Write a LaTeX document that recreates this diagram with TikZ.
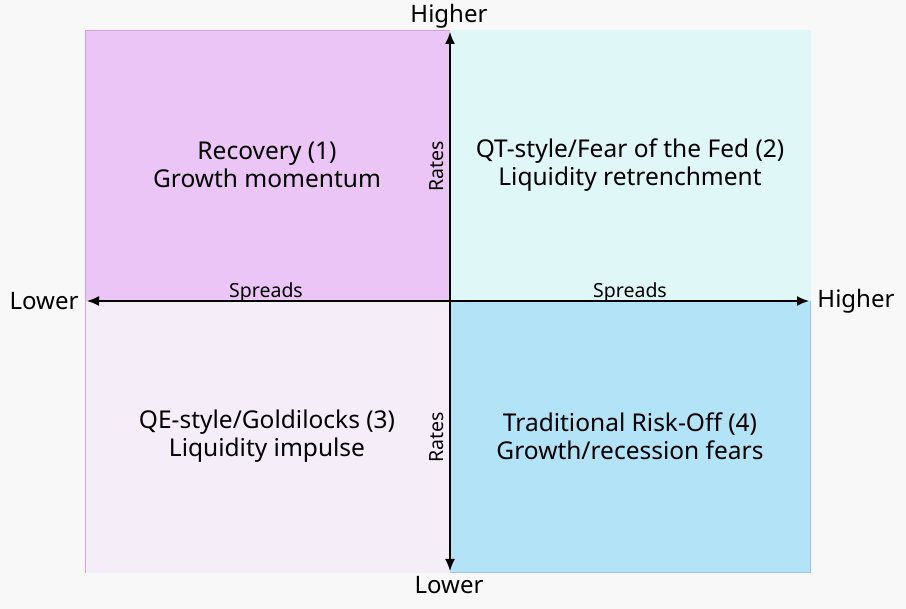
\documentclass[tikz,border=0pt]{standalone}
\usepackage{fontspec}
\setmainfont{Noto Sans}
\usetikzlibrary{arrows.meta}
\definecolor{bg}{HTML}{F8F8F8}
\definecolor{qa}{HTML}{EBC5F5}
\definecolor{qb}{HTML}{E0F7F8}
\definecolor{qc}{HTML}{F5EEF8}
\definecolor{qd}{HTML}{B3E3F7}
\tikzset{
  quadlabel/.style={align=center, font=\fontsize{24.5}{28}\selectfont, text=black},
  endlabel/.style={font=\fontsize{24}{26}\selectfont, text=black, inner sep=0pt},
  axislabel/.style={font=\fontsize{19.5}{22}\selectfont, text=black, inner sep=0pt},
  axisarrow/.style={draw=black, line width=1.6pt, {Latex[length=12pt,width=10pt]}-{Latex[length=12pt,width=10pt]}}
}
\begin{document}
\begin{tikzpicture}[x=1pt,y=-1pt]
\fill[bg] (0,0) rectangle (906,609);
\useasboundingbox (0,0) rectangle (906,609);
\fill[qa] (85,30) rectangle (450,301);
\fill[qb] (450,30) rectangle (811,301);
\fill[qc] (85,301) rectangle (450,573);
\fill[qd] (450,301) rectangle (811,573);
\draw[qa!80!violet, line width=0.8pt] (85.5,573) -- (85.5,30.5) -- (450,30.5);
\draw[qd!85!blue, line width=0.8pt] (450,572.5) -- (810.5,572.5) -- (810.5,301);
\coordinate (L) at (87,301);
\coordinate (R) at (809,301);
\coordinate (T) at (450,32);
\coordinate (B) at (450,571);
\draw[axisarrow] (L) -- (R);
\draw[axisarrow] (B) -- (T);
\node[quadlabel] (q1) at (267,165) {Recovery (1)\\Growth momentum};
\node[quadlabel] (q2) at (630,165) {QT-style/Fear of the Fed (2)\\Liquidity retrenchment};
\node[quadlabel] (q3) at (267,436) {QE-style/Goldilocks (3)\\Liquidity impulse};
\node[quadlabel] (q4) at (630,436) {Traditional Risk-Off (4)\\Growth/recession fears};
\node[endlabel] (top) at (449,16) {Higher};
\node[endlabel] (bot) at (449,585) {Lower};
\node[endlabel] (lft) at (44,301) {Lower};
\node[endlabel] (rgt) at (856,301) {Higher};
\node[axislabel] (sl) at (266,292) {Spreads};
\node[axislabel] (sr) at (630,292) {Spreads};
\node[axislabel, rotate=90] (rt) at (437,166) {Rates};
\node[axislabel, rotate=90] (rb) at (437,437) {Rates};
\end{tikzpicture}
\end{document}
